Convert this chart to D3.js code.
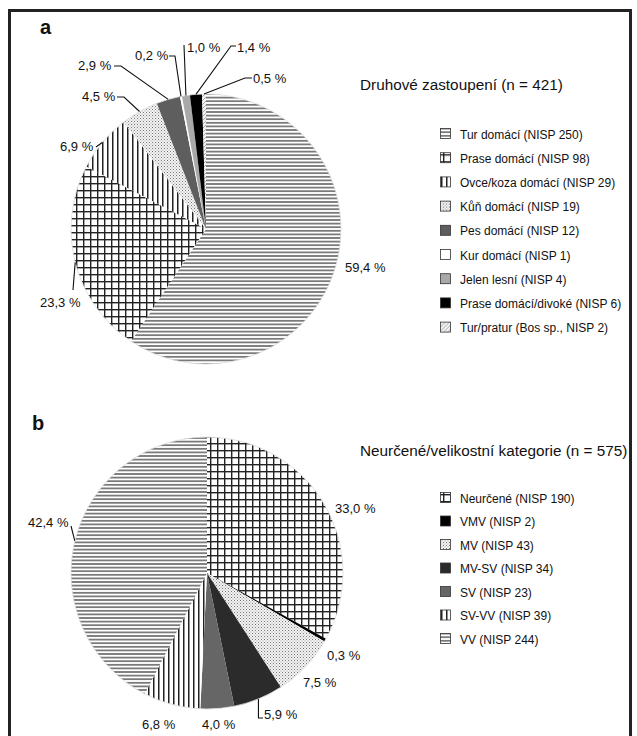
<!DOCTYPE html>
<html>
<head>
<meta charset="utf-8">
<script src="https://cdn.jsdelivr.net/npm/d3@7"></script>
<style>
  body { margin: 0; background: #fff; }
  svg text { font-family: "Liberation Sans", Arial, sans-serif; fill: #111; }
</style>
</head>
<body>
<div id="main"></div>
<script>
// data, chart a
const speciesNames = ["Tur domácí", "Prase domácí", "Ovce/koza domácí", "Kůň domácí", "Pes domácí",
    "Kur domácí", "Jelen lesní", "Prase domácí/divoké", "Tur/pratur"];
const speciesNisp = [250, 98, 29, 19, 12, 1, 4, 6, 2];
const speciesLegend = ["Tur domácí (NISP 250)", "Prase domácí (NISP 98)", "Ovce/koza domácí (NISP 29)",
    "Kůň domácí (NISP 19)", "Pes domácí (NISP 12)", "Kur domácí (NISP 1)", "Jelen lesní (NISP 4)",
    "Prase domácí/divoké (NISP 6)", "Tur/pratur (Bos sp., NISP 2)"];

// data, chart b
const sizeNames = ["Neurčené", "VMV", "MV", "MV-SV", "SV", "SV-VV", "VV"];
const sizeNisp = [190, 2, 43, 34, 23, 39, 244];
const sizeLegend = ["Neurčené (NISP 190)", "VMV (NISP 2)", "MV (NISP 43)", "MV-SV (NISP 34)",
    "SV (NISP 23)", "SV-VV (NISP 39)", "VV (NISP 244)"];

const fillsA = ["url(#hlines)", "url(#grid)", "url(#vlines)", "url(#dots)", "#5e5e5e",
    "#ffffff", "#a9a9a9", "#000000", "url(#diag)"];
const fillsB = ["url(#grid)", "#000000", "url(#dots)", "#2b2b2b", "#666666", "url(#vlines)", "url(#hlines)"];

// label placement: text position + leader bend points (layout only)
const labelsA = [
    {x: 345, y: 272, pts: []},
    {x: 40, y: 307, pts: [[73, 290]]},
    {x: 60, y: 151, pts: [[96, 147]]},
    {x: 82, y: 101, pts: [[124, 97], [117, 97]]},
    {x: 78, y: 70, pts: [[121, 66], [114, 66]]},
    {x: 135, y: 60, pts: [[175, 56], [169, 56]]},
    {x: 187, y: 52, pts: [[184, 45]]},
    {x: 237, y: 52, pts: [[231, 46], [236, 46]]},
    {x: 253, y: 83, pts: [[245, 78], [252, 78]]}
];
const labelsB = [
    {x: 335, y: 513, pts: []},
    {x: 327, y: 660, pts: []},
    {x: 303, y: 687, pts: []},
    {x: 264, y: 719, pts: [[0, 718], [263, 718]]},
    {x: 202, y: 729, pts: []},
    {x: 142, y: 729, pts: []},
    {x: 28, y: 527, pts: [[71, 526]]}
];

const W = 637, H = 736;
const svg = d3.select("#main").append("svg").attr("width", W).attr("height", H);
const defs = svg.append("defs");

function pat(id, w, h) {
    return defs.append("pattern").attr("id", id).attr("patternUnits", "userSpaceOnUse")
        .attr("width", w).attr("height", h);
}
let p = pat("hlines", 4, 3.6);
p.append("rect").attr("width", 4).attr("height", 3.6).attr("fill", "#fff");
p.append("rect").attr("y", 1).attr("width", 4).attr("height", 1.6).attr("fill", "#6a6a6a");
p = pat("vlines", 5, 4);
p.append("rect").attr("width", 5).attr("height", 4).attr("fill", "#fff");
p.append("rect").attr("x", 1).attr("width", 1.5).attr("height", 4).attr("fill", "#222");
p = pat("grid", 7, 7);
p.append("rect").attr("width", 7).attr("height", 7).attr("fill", "#fff");
p.append("rect").attr("x", 3).attr("width", 1.4).attr("height", 7).attr("fill", "#222");
p.append("rect").attr("y", 3).attr("width", 7).attr("height", 1.4).attr("fill", "#222");
p = pat("dots", 3, 3);
p.append("rect").attr("width", 3).attr("height", 3).attr("fill", "#f4f4f4");
p.append("rect").attr("width", 1).attr("height", 1).attr("fill", "#777");
p.append("rect").attr("x", 1.5).attr("y", 1.5).attr("width", 1).attr("height", 1).attr("fill", "#999");
p = pat("diag", 4, 4);
p.append("rect").attr("width", 4).attr("height", 4).attr("fill", "#f2f2f2");
p.append("path").attr("d", "M0,4L4,0").attr("stroke", "#999").attr("stroke-width", 0.8);

// frame
svg.append("rect").attr("x", 9.5).attr("y", 10.5).attr("width", 621).attr("height", 760)
    .attr("fill", "none").attr("stroke", "#222").attr("stroke-width", 3);

const fmt = d3.format(".1f");
const pctText = (v, total) => fmt(v / total * 100).replace(".", ",") + " %";

function drawPie(opts) {
    const g = svg.append("g").attr("transform", `translate(${opts.cx},${opts.cy})`);
    const total = d3.sum(opts.values);
    const arcs = d3.pie().sort(null)(opts.values);
    const arc = d3.arc().innerRadius(0).outerRadius(opts.r);
    g.selectAll("path.slice").data(arcs).join("path")
        .attr("class", "slice")
        .attr("d", arc)
        .attr("fill", (d, i) => opts.fills[i]);
    g.append("circle").attr("r", opts.r).attr("fill", "none").attr("stroke", "#ddd").attr("stroke-width", 0.8);

    const edge = d3.arc().innerRadius(opts.r).outerRadius(opts.r);
    arcs.forEach((d, i) => {
        const lab = opts.labels[i];
        const e = edge.centroid(d);
        const ex = e[0] + opts.cx, ey = e[1] + opts.cy;
        if (lab.pts.length) {
            const pts = [[ex, ey]].concat(lab.pts.map(q => [q[0] === 0 ? ex : q[0], q[1]]));
            svg.append("path").attr("d", d3.line()(pts))
                .attr("fill", "none").attr("stroke", "#111").attr("stroke-width", 1.1);
        }
        svg.append("text").attr("x", lab.x).attr("y", lab.y)
            .attr("font-size", 13).text(pctText(d.data, total));
    });

    const lg = svg.append("g").attr("transform", `translate(${opts.lx},${opts.ly})`);
    const rows = lg.selectAll("g").data(opts.legend).join("g")
        .attr("transform", (d, i) => `translate(0,${i * opts.step})`);
    rows.append("rect").attr("x", 0.5).attr("y", -5.5).attr("width", 10).attr("height", 10)
        .attr("fill", (d, i) => opts.fills[i]).attr("stroke", "#333").attr("stroke-width", 0.8);
    rows.append("text").attr("x", 20).attr("y", 4.5).attr("font-size", 12).text(d => d);

    svg.append("text").attr("x", opts.tx).attr("y", opts.ty).attr("font-size", 15.3).text(opts.title);
}

svg.append("text").attr("x", 40).attr("y", 34).attr("font-size", 20).attr("font-weight", "bold").text("a");
svg.append("text").attr("x", 32).attr("y", 430).attr("font-size", 20).attr("font-weight", "bold").text("b");

drawPie({cx: 206, cy: 229, r: 135, values: speciesNisp, fills: fillsA, labels: labelsA,
    legend: speciesLegend, lx: 440, ly: 134, step: 24.2,
    title: "Druhové zastoupení (n = 421)", tx: 360, ty: 90});
drawPie({cx: 207, cy: 573, r: 136, values: sizeNisp, fills: fillsB, labels: labelsB,
    legend: sizeLegend, lx: 440, ly: 498, step: 23.5,
    title: "Neurčené/velikostní kategorie (n = 575)", tx: 360, ty: 456});
</script>
</body>
</html>
